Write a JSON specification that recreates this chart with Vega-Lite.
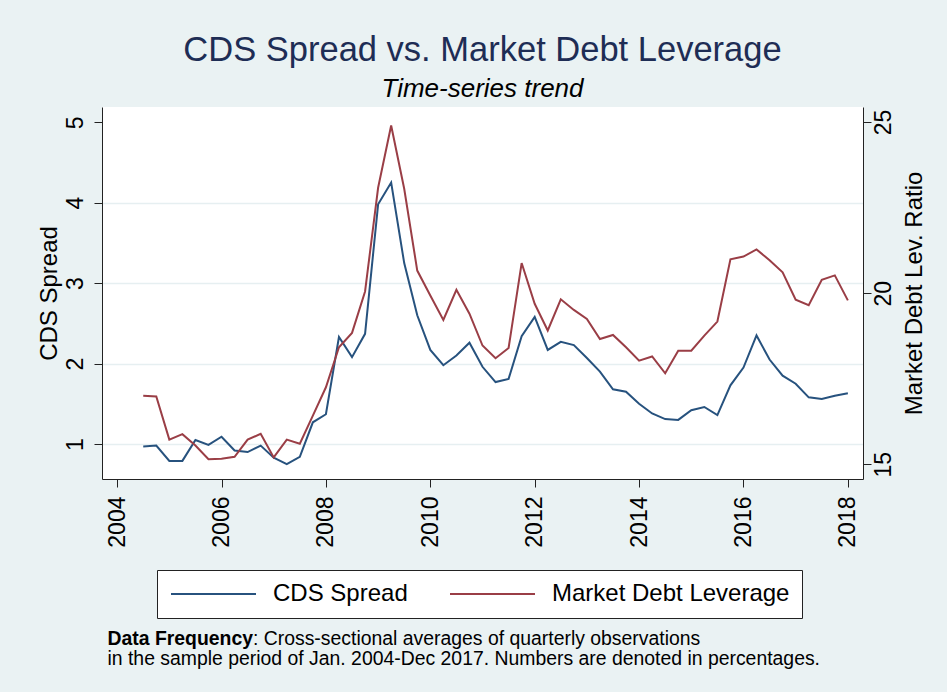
{
  "$schema": "https://vega.github.io/schema/vega-lite/v6.json",
  "width": 761,
  "height": 372,
  "autosize": {"type": "none"},
  "padding": {"left": 102, "top": 107, "right": 84, "bottom": 213},
  "background": "#EAF2F3",
  "config": {
    "font": "Liberation Sans",
    "view": {"fill": "white", "stroke": null},
    "axis": {
      "domainColor": "#222222",
      "tickColor": "#222222",
      "labelColor": "black",
      "titleColor": "black",
      "labelFont": "Liberation Sans",
      "titleFont": "Liberation Sans",
      "labelFontSize": 23,
      "titleFontSize": 24,
      "titleFontWeight": "normal",
      "tickSize": 8,
      "labelFlush": false,
      "labelOverlap": false
    }
  },
  "title": {
    "text": "CDS Spread vs. Market Debt Leverage",
    "subtitle": "Time-series trend",
    "font": "Liberation Sans",
    "fontSize": 34.5,
    "fontWeight": "normal",
    "color": "#1E2D55",
    "subtitleFont": "Liberation Sans",
    "subtitleFontSize": 26,
    "subtitleFontStyle": "italic",
    "subtitleColor": "black",
    "anchor": "middle",
    "offset": 4,
    "subtitlePadding": 8
  },
  "data": {
    "values": [
      {"t": 2004.5, "cds": 0.97, "lev": 17.0},
      {"t": 2004.75, "cds": 0.98, "lev": 16.98},
      {"t": 2005.0, "cds": 0.79, "lev": 15.72},
      {"t": 2005.25, "cds": 0.79, "lev": 15.88},
      {"t": 2005.5, "cds": 1.05, "lev": 15.55},
      {"t": 2005.75, "cds": 0.99, "lev": 15.15},
      {"t": 2006.0, "cds": 1.09, "lev": 15.16},
      {"t": 2006.25, "cds": 0.92, "lev": 15.22},
      {"t": 2006.5, "cds": 0.9, "lev": 15.72},
      {"t": 2006.75, "cds": 0.98, "lev": 15.89},
      {"t": 2007.0, "cds": 0.83, "lev": 15.2},
      {"t": 2007.25, "cds": 0.75, "lev": 15.72},
      {"t": 2007.5, "cds": 0.84, "lev": 15.6},
      {"t": 2007.75, "cds": 1.27, "lev": 16.42},
      {"t": 2008.0, "cds": 1.37, "lev": 17.25},
      {"t": 2008.25, "cds": 2.33, "lev": 18.42},
      {"t": 2008.5, "cds": 2.08, "lev": 18.84},
      {"t": 2008.75, "cds": 2.37, "lev": 20.05},
      {"t": 2009.0, "cds": 3.98, "lev": 23.08},
      {"t": 2009.25, "cds": 4.25, "lev": 24.9},
      {"t": 2009.5, "cds": 3.25, "lev": 23.05},
      {"t": 2009.75, "cds": 2.6, "lev": 20.66},
      {"t": 2010.0, "cds": 2.17, "lev": 19.93},
      {"t": 2010.25, "cds": 1.98, "lev": 19.22},
      {"t": 2010.5, "cds": 2.1, "lev": 20.1},
      {"t": 2010.75, "cds": 2.26, "lev": 19.4},
      {"t": 2011.0, "cds": 1.96, "lev": 18.47},
      {"t": 2011.25, "cds": 1.77, "lev": 18.1},
      {"t": 2011.5, "cds": 1.81, "lev": 18.4},
      {"t": 2011.75, "cds": 2.34, "lev": 20.88},
      {"t": 2012.0, "cds": 2.58, "lev": 19.69},
      {"t": 2012.25, "cds": 2.17, "lev": 18.91},
      {"t": 2012.5, "cds": 2.27, "lev": 19.82},
      {"t": 2012.75, "cds": 2.23, "lev": 19.51},
      {"t": 2013.0, "cds": 2.07, "lev": 19.25},
      {"t": 2013.25, "cds": 1.9, "lev": 18.66},
      {"t": 2013.5, "cds": 1.68, "lev": 18.78},
      {"t": 2013.75, "cds": 1.65, "lev": 18.42},
      {"t": 2014.0, "cds": 1.5, "lev": 18.03},
      {"t": 2014.25, "cds": 1.38, "lev": 18.15},
      {"t": 2014.5, "cds": 1.31, "lev": 17.66},
      {"t": 2014.75, "cds": 1.3, "lev": 18.32},
      {"t": 2015.0, "cds": 1.42, "lev": 18.32},
      {"t": 2015.25, "cds": 1.46, "lev": 18.76},
      {"t": 2015.5, "cds": 1.36, "lev": 19.17},
      {"t": 2015.75, "cds": 1.73, "lev": 20.99},
      {"t": 2016.0, "cds": 1.95, "lev": 21.07},
      {"t": 2016.25, "cds": 2.35, "lev": 21.28},
      {"t": 2016.5, "cds": 2.05, "lev": 20.96},
      {"t": 2016.75, "cds": 1.85, "lev": 20.61},
      {"t": 2017.0, "cds": 1.75, "lev": 19.81},
      {"t": 2017.25, "cds": 1.58, "lev": 19.65},
      {"t": 2017.5, "cds": 1.56, "lev": 20.39},
      {"t": 2017.75, "cds": 1.6, "lev": 20.52},
      {"t": 2018.0, "cds": 1.63, "lev": 19.79}
    ]
  },
  "layer": [
    {
      "mark": {"type": "line", "strokeWidth": 2},
      "encoding": {
        "x": {
          "field": "t",
          "type": "quantitative",
          "scale": {"domain": [2003.71, 2018.29], "nice": false, "zero": false},
          "axis": {
            "values": [2004, 2006, 2008, 2010, 2012, 2014, 2016, 2018],
            "format": "d",
            "grid": false,
            "labelAngle": 270,
            "labelAlign": "right",
            "labelBaseline": "middle",
            "labelPadding": 9,
            "title": ["\u200b\u00a0\u00a0\u00a0\u00a0\u00a0\u00a0\u00a0\u00a0\u00a0\u00a0\u00a0\u00a0\u00a0\u00a0\u00a0\u00a0\u00a0\u00a0\u00a0\u00a0\u00a0\u00a0\u00a0\u00a0\u00a0\u00a0\u00a0: Cross-sectional averages of quarterly observations", "in the sample period of Jan. 2004-Dec 2017. Numbers are denoted in percentages."],
            "titleAnchor": "start",
            "titleAlign": "left",
            "titleBaseline": "alphabetic",
            "titleX": 5,
            "titleY": 165,
            "titleFontSize": 19.4,
            "titleLineHeight": 20
          }
        },
        "y": {
          "field": "cds",
          "type": "quantitative",
          "scale": {"domain": [0.565, 5.19], "nice": false, "zero": false},
          "axis": {
            "values": [1, 2, 3, 4, 5],
            "title": "CDS Spread",
            "labelAngle": 270,
            "labelAlign": "center",
            "labelBaseline": "alphabetic",
            "labelPadding": 12,
            "grid": true,
            "gridColor": "#E6EFF1",
            "gridWidth": 1.5,
            "gridOpacity": {"condition": {"test": "datum.value == 5", "value": 0}, "value": 1},
            "titleAngle": 270,
            "titleAlign": "center",
            "titleBaseline": "alphabetic",
            "titleX": -46,
            "titleY": 186
          }
        },
        "color": {
          "datum": "CDS Spread",
          "type": "nominal",
          "scale": {"domain": ["CDS Spread", "Market Debt Leverage"], "range": ["#27527E", "#9A3E46"]},
          "legend": {
            "orient": "none",
            "legendX": 55,
            "legendY": 463,
            "direction": "horizontal",
            "title": null,
            "symbolType": "M-1,0L7.5,0",
            "symbolSize": 400,
            "symbolStrokeWidth": 2,
            "symbolFillColor": "transparent",
            "labelFont": "Liberation Sans",
            "labelFontSize": 24,
            "labelColor": "black",
            "labelLimit": 400,
            "labelOffset": 80,
            "columnPadding": 38,
            "strokeColor": "#222222",
            "fillColor": "white",
            "padding": 12
          }
        }
      }
    },
    {
      "mark": {"type": "line", "strokeWidth": 2},
      "encoding": {
        "x": {
          "field": "t",
          "type": "quantitative",
          "scale": {"domain": [2003.71, 2018.29], "nice": false, "zero": false},
          "axis": {
            "orient": "bottom",
            "labels": false,
            "ticks": false,
            "domain": false,
            "grid": false,
            "title": "Data Frequency",
            "titleAnchor": "start",
            "titleAlign": "left",
            "titleBaseline": "alphabetic",
            "titleX": 5,
            "titleY": 165,
            "titleFontSize": 19.4,
            "titleFontWeight": "bold"
          }
        },
        "y": {
          "field": "lev",
          "type": "quantitative",
          "scale": {"domain": [14.57, 25.44], "nice": false, "zero": false},
          "axis": {
            "orient": "right",
            "values": [15, 20, 25],
            "title": "Market Debt Lev. Ratio",
            "grid": false,
            "labelAngle": 270,
            "labelAlign": "center",
            "labelBaseline": "top",
            "labelPadding": 1,
            "titleAngle": 270,
            "titleAlign": "center",
            "titleBaseline": "alphabetic",
            "titleX": 58,
            "titleY": 186
          }
        },
        "color": {"datum": "Market Debt Leverage", "type": "nominal"}
      }
    }
  ],
  "resolve": {"scale": {"y": "independent"}, "axis": {"x": "independent"}}
}
